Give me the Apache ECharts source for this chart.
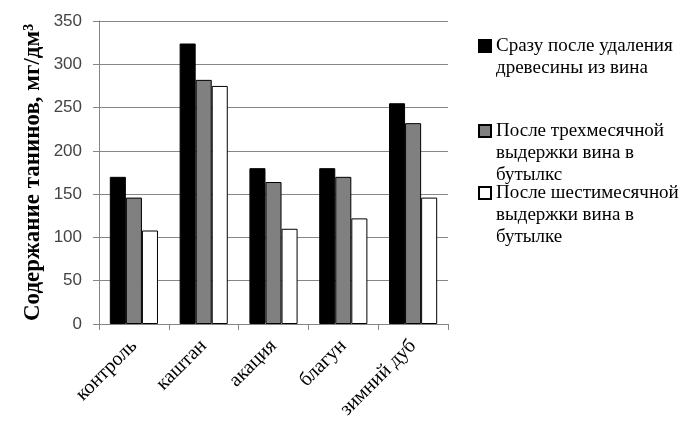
<!DOCTYPE html>
<html>
<head>
<meta charset="utf-8">
<script src="https://cdn.jsdelivr.net/npm/echarts@6/dist/echarts.min.js"></script>
<style>
  html, body { margin: 0; padding: 0; background: #fff; }
  #chart { width: 698px; height: 429px; }
</style>
</head>
<body>
<div id="chart"></div>
<script>
var categories = ['контроль', 'каштан', 'акация', 'благун', 'зимний дуб'];
var seriesNames = [
  'Сразу после удаления\nдревесины из вина',
  'После трехмесячной\nвыдержки вина в\nбутылкс',
  'После шестимесячной\nвыдержки вина в\nбутылке'
];
var immediately = [170, 324, 180, 180, 255];
var threeMonths = [146, 282, 164, 170, 232];
var sixMonths = [108, 275, 110, 122, 146];
var yTicks = [0, 50, 100, 150, 200, 250, 300, 350];

var chart = echarts.init(document.getElementById('chart'));

var serif = '"Liberation Serif", "DejaVu Serif", serif';
var lineH = 22;

// отдельная легенда на каждый ряд: значок выровнен по первой строке
function legendFor(i, top) {
  var h = seriesNames[i].split('\n').length * lineH;
  return {
    data: [seriesNames[i]],
    left: 478,
    top: top,
    padding: 0,
    orient: 'vertical',
    icon: 'path://M0,0M0,5h12v12h-12zM0,' + h,
    itemWidth: 12,
    itemHeight: h,
    selectedMode: false,
    textStyle: {
      fontFamily: serif,
      fontSize: 19,
      color: '#000',
      lineHeight: lineH
    }
  };
}

var option = {
  animation: false,
  backgroundColor: '#fff',
  grid: { left: 99, right: 250, top: 21, bottom: 105 },
  legend: [legendFor(0, 34), legendFor(1, 119), legendFor(2, 181)],
  xAxis: {
    type: 'category',
    data: categories,
    axisLine: { lineStyle: { color: '#868686', width: 1 } },
    axisTick: { show: true, length: 6, lineStyle: { color: '#868686' } },
    axisLabel: {
      rotate: 45,
      fontFamily: serif,
      fontSize: 20,
      color: '#000',
      margin: 19
    }
  },
  yAxis: {
    type: 'value',
    min: 0,
    max: 350,
    interval: 50,
    name: 'Содержание танинов, мг/дм³',
    nameLocation: 'middle',
    nameGap: 54,
    nameTextStyle: { fontFamily: serif, fontSize: 23, fontWeight: 'bold', color: '#000' },
    axisLine: { show: true, lineStyle: { color: '#868686' } },
    axisTick: { show: true, length: 6, lineStyle: { color: '#868686' } },
    splitLine: { lineStyle: { color: '#868686', width: 1 } },
    axisLabel: {
      fontFamily: '"Liberation Sans", Arial, sans-serif',
      fontSize: 17,
      color: '#444',
      margin: 17,
      formatter: function (v) { return yTicks.indexOf(v) >= 0 ? String(v) : ''; }
    }
  },
  series: [
    {
      name: seriesNames[0], type: 'bar', data: immediately,
      barGap: '0%', barCategoryGap: '31%',
      itemStyle: { color: '#000', borderColor: '#000', borderWidth: 1 }
    },
    {
      name: seriesNames[1], type: 'bar', data: threeMonths,
      barGap: '0%', barCategoryGap: '31%',
      itemStyle: { color: '#808080', borderColor: '#000', borderWidth: 1 }
    },
    {
      name: seriesNames[2], type: 'bar', data: sixMonths,
      barGap: '0%', barCategoryGap: '31%',
      itemStyle: { color: '#fff', borderColor: '#000', borderWidth: 1 }
    }
  ]
};

chart.setOption(option);
</script>
</body>
</html>
